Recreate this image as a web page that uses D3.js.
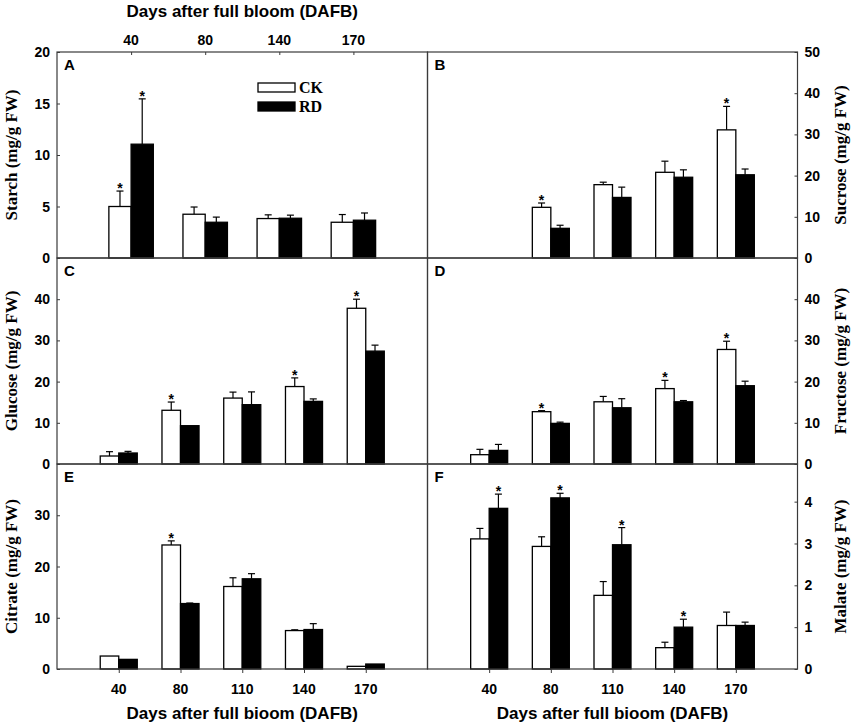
<!DOCTYPE html>
<html>
<head>
<meta charset="utf-8">
<script src="https://cdn.jsdelivr.net/npm/d3@7"></script>
<style>
  html, body { margin: 0; padding: 0; background: #fff; }
  svg { display: block; }
  .tick-label { font-family: "Liberation Sans", Arial, sans-serif; font-weight: bold; font-size: 14px; }
  .axis-title { font-family: "Liberation Sans", Arial, sans-serif; font-weight: bold; font-size: 17px; }
  .y-title { font-family: "Liberation Serif", "Times New Roman", serif; font-weight: bold; font-size: 17px; }
  .panel-letter { font-family: "Liberation Sans", Arial, sans-serif; font-weight: bold; font-size: 15px; }
  .legend-text { font-family: "Liberation Serif", "Times New Roman", serif; font-weight: bold; font-size: 16px; }
  .star { font-family: "Liberation Sans", Arial, sans-serif; font-weight: bold; font-size: 14px; }
</style>
</head>
<body>
<svg id="chart" width="851" height="728"></svg>
<script>
// categories
const daysA = ["40", "80", "140", "170"];
const days = ["40", "80", "110", "140", "170"];

// A: starch
const starchCK = [5.0, 4.25, 3.83, 3.47];
const starchCKErr = [1.5, 0.7, 0.36, 0.75];
const starchCKSig = [1, 0, 0, 0];
const starchRD = [11.05, 3.47, 3.86, 3.67];
const starchRDErr = [4.4, 0.5, 0.3, 0.7];
const starchRDSig = [1, 0, 0, 0];

// B: sucrose (no sample at 40 DAFB)
const sucroseCK = [null, 12.3, 17.8, 20.8, 31.1];
const sucroseCKErr = [0, 1.05, 0.6, 2.7, 5.7];
const sucroseCKSig = [0, 1, 0, 0, 1];
const sucroseRD = [null, 7.2, 14.7, 19.6, 20.2];
const sucroseRDErr = [0, 0.75, 2.5, 1.8, 1.4];
const sucroseRDSig = [0, 0, 0, 0, 0];

// C: glucose
const glucoseCK = [1.94, 13.04, 16.0, 18.8, 37.8];
const glucoseCKErr = [1.05, 2.0, 1.45, 2.1, 2.2];
const glucoseCKSig = [0, 1, 0, 1, 1];
const glucoseRD = [2.67, 9.3, 14.4, 15.2, 27.4];
const glucoseRDErr = [0.4, 0, 3.1, 0.6, 1.45];
const glucoseRDSig = [0, 0, 0, 0, 0];

// D: fructose
const fructoseCK = [2.26, 12.7, 15.1, 18.3, 27.8];
const fructoseCKErr = [1.3, 0.25, 1.3, 2.0, 2.0];
const fructoseCKSig = [0, 1, 0, 1, 1];
const fructoseRD = [3.3, 9.86, 13.65, 15.1, 19.0];
const fructoseRDErr = [1.45, 0.3, 2.2, 0.3, 1.1];
const fructoseRDSig = [0, 0, 0, 0, 0];

// E: citrate
const citrateCK = [2.53, 24.2, 16.1, 7.5, 0.52];
const citrateCKErr = [0, 0.8, 1.7, 0.15, 0];
const citrateCKSig = [0, 1, 0, 0, 0];
const citrateRD = [1.88, 12.77, 17.6, 7.7, 0.97];
const citrateRDErr = [0, 0.1, 1.0, 1.15, 0];
const citrateRDSig = [0, 0, 0, 0, 0];

// F: malate
const malateCK = [3.11, 2.93, 1.76, 0.51, 1.04];
const malateCKErr = [0.25, 0.23, 0.33, 0.13, 0.32];
const malateCKSig = [0, 0, 0, 0, 0];
const malateRD = [3.84, 4.09, 2.97, 1.0, 1.04];
const malateRDErr = [0.34, 0.11, 0.41, 0.19, 0.08];
const malateRDSig = [1, 1, 1, 1, 0];

const seriesNames = ["CK", "RD"];
const xTitleTop = "Days after full bloom (DAFB)";
const xTitleBottom = "Days after full bioom (DAFB)";

// layout
const colX = [57, 427.5, 797.5];
const rowY = [52, 258, 464, 669];

const panels = [
  { id: "A", col: 0, row: 0, cats: daysA, ck: starchCK, ckErr: starchCKErr, ckSig: starchCKSig,
    rd: starchRD, rdErr: starchRDErr, rdSig: starchRDSig, domain: [0, 20], ticks: [0, 5, 10, 15, 20],
    title: "Starch (mg/g FW)" },
  { id: "B", col: 1, row: 0, cats: days, ck: sucroseCK, ckErr: sucroseCKErr, ckSig: sucroseCKSig,
    rd: sucroseRD, rdErr: sucroseRDErr, rdSig: sucroseRDSig, domain: [0, 50], ticks: [0, 10, 20, 30, 40, 50],
    title: "Sucrose (mg/g FW)" },
  { id: "C", col: 0, row: 1, cats: days, ck: glucoseCK, ckErr: glucoseCKErr, ckSig: glucoseCKSig,
    rd: glucoseRD, rdErr: glucoseRDErr, rdSig: glucoseRDSig, domain: [0, 50], ticks: [0, 10, 20, 30, 40],
    title: "Glucose (mg/g FW)" },
  { id: "D", col: 1, row: 1, cats: days, ck: fructoseCK, ckErr: fructoseCKErr, ckSig: fructoseCKSig,
    rd: fructoseRD, rdErr: fructoseRDErr, rdSig: fructoseRDSig, domain: [0, 50], ticks: [0, 10, 20, 30, 40],
    title: "Fructose (mg/g FW)" },
  { id: "E", col: 0, row: 2, cats: days, ck: citrateCK, ckErr: citrateCKErr, ckSig: citrateCKSig,
    rd: citrateRD, rdErr: citrateRDErr, rdSig: citrateRDSig, domain: [0, 40], ticks: [0, 10, 20, 30],
    title: "Citrate (mg/g FW)" },
  { id: "F", col: 1, row: 2, cats: days, ck: malateCK, ckErr: malateCKErr, ckSig: malateCKSig,
    rd: malateRD, rdErr: malateRDErr, rdSig: malateRDSig, domain: [0, 4.9], ticks: [0, 1, 2, 3, 4],
    title: "Malate (mg/g FW)" }
];

const svg = d3.select("#chart");
const frameColor = "#3a3a3a";

panels.forEach(p => {
  const x0 = colX[p.col], x1 = colX[p.col + 1];
  const y0 = rowY[p.row], y1 = rowY[p.row + 1];
  const right = p.col === 1;

  const x = d3.scalePoint().domain(p.cats).range([x0, x1]).padding(1);
  const y = d3.scaleLinear().domain(p.domain).range([y1, y0]);
  const bw = x.step() * 0.3;

  const g = svg.append("g");

  // rows of bar data
  const rows = [];
  p.cats.forEach((c, i) => {
    [["CK", p.ck, p.ckErr, p.ckSig, -1], ["RD", p.rd, p.rdErr, p.rdSig, 0]].forEach(([s, v, e, sig, off]) => {
      if (v[i] == null) return;
      rows.push({ cat: c, series: s, value: v[i], err: e[i], sig: sig[i], left: x(c) + off * bw });
    });
  });

  // error bars (upper only)
  const eb = g.selectAll(".eb").data(rows.filter(d => d.err > 0)).join("g")
    .attr("stroke", "#000").attr("stroke-width", 1.2);
  eb.append("line")
    .attr("x1", d => d.left + bw / 2).attr("x2", d => d.left + bw / 2)
    .attr("y1", d => y(d.value)).attr("y2", d => y(d.value + d.err));
  eb.append("line")
    .attr("x1", d => d.left + bw / 2 - 3.5).attr("x2", d => d.left + bw / 2 + 3.5)
    .attr("y1", d => y(d.value + d.err)).attr("y2", d => y(d.value + d.err));

  // bars
  g.selectAll(".bar").data(rows).join("rect")
    .attr("x", d => d.left)
    .attr("y", d => y(d.value))
    .attr("width", bw)
    .attr("height", d => y(0) - y(d.value))
    .attr("fill", d => d.series === "CK" ? "#fff" : "#000")
    .attr("stroke", "#000")
    .attr("stroke-width", 1.3);

  // significance stars
  g.selectAll(".star").data(rows.filter(d => d.sig)).join("text")
    .attr("class", "star")
    .attr("x", d => d.left + bw / 2)
    .attr("y", d => y(d.value + d.err) + 2)
    .attr("text-anchor", "middle")
    .text("*");

  // frame
  g.append("rect")
    .attr("x", x0).attr("y", y0).attr("width", x1 - x0).attr("height", y1 - y0)
    .attr("fill", "none").attr("stroke", frameColor).attr("stroke-width", 1.2);

  // y axis (ticks pointing inward)
  const yAxis = (right ? d3.axisLeft(y) : d3.axisRight(y))
    .tickValues(p.ticks).tickSize(3).tickFormat("");
  g.append("g")
    .attr("transform", `translate(${right ? x1 : x0},0)`)
    .call(yAxis)
    .call(a => a.select(".domain").remove())
    .call(a => a.selectAll("line").attr("stroke", frameColor));

  g.selectAll(".ytl").data(p.ticks).join("text")
    .attr("class", "tick-label")
    .attr("x", right ? x1 + 7 : x0 - 7)
    .attr("y", d => y(d))
    .attr("dy", "0.36em")
    .attr("text-anchor", right ? "start" : "end")
    .text(d => d);

  // y title
  const tx = right ? 846 : 17;
  g.append("text")
    .attr("class", "y-title")
    .attr("transform", `translate(${tx},${(y0 + y1) / 2}) rotate(-90)`)
    .attr("text-anchor", "middle")
    .text(p.title);

  // panel letter
  g.append("text")
    .attr("class", "panel-letter")
    .attr("x", x0 + 7).attr("y", y0 + 18)
    .text(p.id);

  // top x axis for panel A
  if (p.row === 0 && p.col === 0) {
    g.append("g")
      .attr("transform", `translate(0,${y0})`)
      .call(d3.axisBottom(x).tickSize(3).tickFormat(""))
      .call(a => a.select(".domain").remove())
      .call(a => a.selectAll("line").attr("stroke", frameColor));
    g.selectAll(".xtt").data(p.cats).join("text")
      .attr("class", "tick-label")
      .attr("x", d => x(d)).attr("y", y0 - 7)
      .attr("text-anchor", "middle")
      .text(d => d);
    g.append("text")
      .attr("class", "axis-title")
      .attr("x", (x0 + x1) / 2).attr("y", 17)
      .attr("text-anchor", "middle")
      .text(xTitleTop);
  }

  // bottom x axis for E and F
  if (p.row === 2) {
    g.append("g")
      .attr("transform", `translate(0,${y1})`)
      .call(d3.axisBottom(x).tickSize(4).tickFormat(""))
      .call(a => a.select(".domain").remove())
      .call(a => a.selectAll("line").attr("stroke", frameColor));
    g.selectAll(".xtb").data(p.cats).join("text")
      .attr("class", "tick-label")
      .attr("x", d => x(d)).attr("y", 694)
      .attr("text-anchor", "middle")
      .text(d => d);
    g.append("text")
      .attr("class", "axis-title")
      .attr("x", (x0 + x1) / 2).attr("y", 719)
      .attr("text-anchor", "middle")
      .text(xTitleBottom);
  }

  // legend in panel A
  if (p.id === "A") {
    const lg = g.append("g").attr("transform", "translate(258,83)");
    lg.selectAll("rect").data(seriesNames).join("rect")
      .attr("x", 0).attr("y", (d, i) => i * 19)
      .attr("width", 37).attr("height", 9)
      .attr("fill", (d, i) => i === 0 ? "#fff" : "#000")
      .attr("stroke", "#000").attr("stroke-width", 1.3);
    lg.selectAll("text").data(seriesNames).join("text")
      .attr("class", "legend-text")
      .attr("x", 41).attr("y", (d, i) => i * 19 + 9.5)
      .text(d => d);
  }
});
</script>
</body>
</html>
